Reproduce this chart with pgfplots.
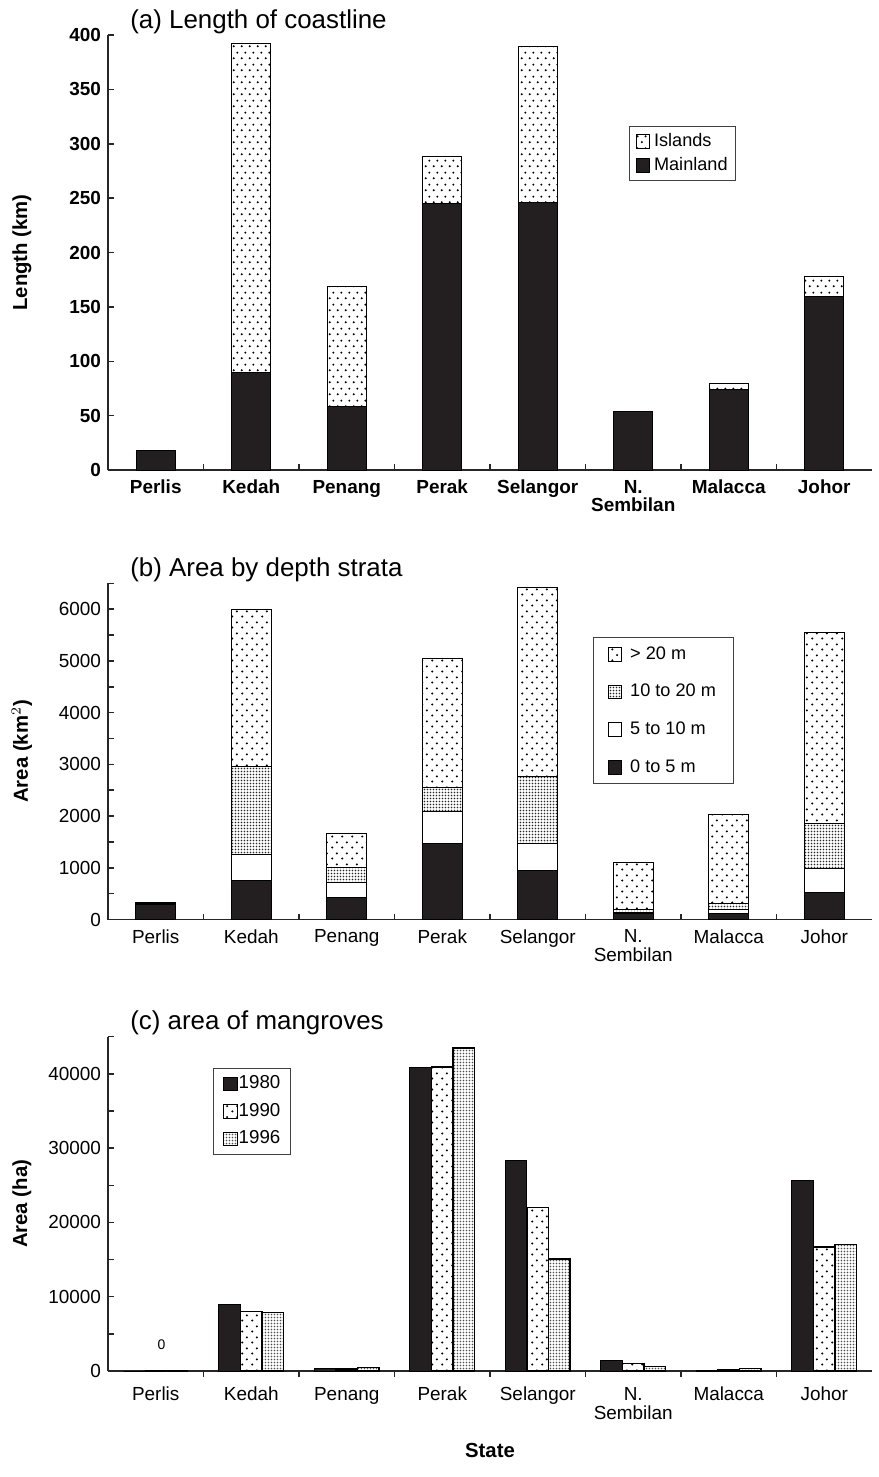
\documentclass[border=0pt]{standalone}
\usepackage{fontspec}
\setmainfont{Liberation Sans}
\usepackage{pgfplots}
\pgfplotsset{compat=1.18}
\usetikzlibrary{patterns}

\definecolor{barblack}{RGB}{35,31,32}

% sparse dots for panel (a)
\pgfdeclarepatternformonly{sdotsA}{\pgfqpoint{0bp}{0bp}}{\pgfqpoint{4bp}{6bp}}{\pgfqpoint{4bp}{6bp}}{%
  \pgfpathcircle{\pgfqpoint{1bp}{1.5bp}}{0.6bp}%
  \pgfpathcircle{\pgfqpoint{3bp}{4.5bp}}{0.6bp}%
  \pgfusepath{fill}}
% sparse dots for panels (b), (c)
\pgfdeclarepatternformonly{sdotsB}{\pgfqpoint{0bp}{0bp}}{\pgfqpoint{5bp}{5.5bp}}{\pgfqpoint{5bp}{5.5bp}}{%
  \pgfpathcircle{\pgfqpoint{1.25bp}{1.375bp}}{0.6bp}%
  \pgfpathcircle{\pgfqpoint{3.75bp}{4.125bp}}{0.6bp}%
  \pgfusepath{fill}}
% dense dots
\pgfdeclarepatternformonly{ddots}{\pgfqpoint{0bp}{0bp}}{\pgfqpoint{1.5bp}{1.5bp}}{\pgfqpoint{1.5bp}{1.5bp}}{%
  \pgfpathcircle{\pgfqpoint{0.75bp}{0.75bp}}{0.43bp}%
  \pgfusepath{fill}}

\newcommand\fa{\fontsize{9.5}{9.5}\selectfont\bfseries}
\newcommand\fl{\fontsize{10.2}{11}\selectfont\bfseries}
\newcommand\fb{\fontsize{9.5}{9.5}\selectfont}
\newcommand\ft{\fontsize{13}{15}\selectfont}

\pgfplotsset{
  panel/.style={
    scale only axis, width=382bp,
    xmin=-0.5, xmax=7.5, ymin=0,
    axis x line=bottom, axis y line=left,
    axis line style={-, line width=0.75bp, black!85},
    tick align=inside, major tick length=3bp, minor tick length=3bp,
    tick style={black!85, line width=0.75bp},
    xtick={0,...,7}, minor xtick={0.5,1.5,...,6.5},
    every major x tick/.append style={draw=none},
    xticklabels={Perlis,Kedah,Penang,Perak,Selangor,{N.\\Sembilan},Malacca,Johor},
    xticklabel style={align=center, anchor=north, yshift=-1.5bp},
    /pgf/number format/assume math mode=true,
    yticklabel style={/pgf/number format/1000 sep={}},
    scaled y ticks=false,
    every axis y label/.style={at={(axis description cs:-0.1126,0.5)}, rotate=90, anchor=center},
    title style={at={(rel axis cs:0.02,1)}, anchor=base west, yshift=-2.5bp, font=\ft},
    legend cell align=left,
  },
  sq/.style={legend image code/.code={%
    \draw[##1, line width=0.5bp] (0bp,-3.4bp) rectangle (6.8bp,3.4bp);
    \path[draw=none, fill=none] (0bp,0bp) -- (6.8bp+#1,0bp);}},
  sq/.default=0bp,
}

\begin{document}
\begin{tikzpicture}
\useasboundingbox (0bp,0bp) rectangle (439.5bp,-738.5bp);

% ---------------- (a) ----------------
\begin{axis}[panel, at={(54bp,-235bp)}, anchor=south west, height=217.5bp,
  ybar stacked, bar width=19.5bp, sq=1.2bp,
  ymax=400, ytick={0,50,...,400},
  tick label style={font=\fa},
  ylabel={Length (km)}, ylabel style={font=\fl},
  title={(a) Length of coastline},
  legend style={at={(0.682,0.791)}, anchor=north west, font=\fontsize{9.1}{10}\selectfont,
    draw=black!75, line width=0.5bp, inner xsep=3bp, inner ysep=2.5bp, row sep=2bp,
    nodes={inner sep=1bp}},
  reverse legend]
\addplot[sq=1.2bp, fill=barblack, draw=black, line width=0.5bp] coordinates
  {(0,18) (1,90) (2,58) (3,245) (4,246) (5,54) (6,74) (7,160)};
\addlegendentry{Mainland}
\addplot[sq=1.2bp, pattern=sdotsA, draw=black, line width=0.5bp] coordinates
  {(0,0) (1,302) (2,111) (3,43) (4,143) (5,0) (6,6) (7,18)};
\addlegendentry{Islands}
\end{axis}

% ---------------- (b) ----------------
\begin{axis}[panel, at={(54bp,-459.75bp)}, anchor=south west, height=168.1bp,
  ybar stacked, bar width=20bp, sq=2.5bp,
  ymax=6500, ytick={0,1000,...,6000}, minor ytick={500,1500,...,6500},
  tick label style={font=\fb},
  ylabel={Area (km$^{2}$)}, ylabel style={font=\fl},
  title={(b) Area by depth strata},
  legend style={at={(0.635,0.839)}, anchor=north west, font=\fontsize{9.1}{10}\selectfont,
    draw=black!75, line width=0.5bp, inner xsep=7bp, inner ysep=2.5bp, row sep=7.5bp,
    nodes={inner sep=1.75bp}},
  reverse legend]
\addplot[sq=2.5bp, fill=barblack, draw=black, line width=0.5bp] coordinates
  {(0,290) (1,760) (2,430) (3,1460) (4,940) (5,120) (6,120) (7,520)};
\addlegendentry{0 to 5 m}
\addplot[sq=2.5bp, fill=white, draw=black, line width=0.5bp] coordinates
  {(0,10) (1,500) (2,290) (3,620) (4,530) (5,20) (6,80) (7,470)};
\addlegendentry{5 to 10 m}
\addplot[sq=2.5bp, pattern=ddots, pattern color=black!85, draw=black, line width=0.5bp] coordinates
  {(0,15) (1,1690) (2,290) (3,470) (4,1300) (5,60) (6,110) (7,870)};
\addlegendentry{10 to 20 m}
\addplot[sq=2.5bp, pattern=sdotsB, draw=black, line width=0.5bp] coordinates
  {(0,20) (1,3050) (2,660) (3,2490) (4,3640) (5,910) (6,1720) (7,3680)};
\addlegendentry{> 20 m}
\end{axis}

% ---------------- (c) ----------------
\begin{axis}[panel, at={(54bp,-685.5bp)}, anchor=south west, height=167.15bp,
  ybar=0pt, bar width=10.75bp, sq,
  ymax=45000, ytick={0,10000,...,40000}, minor ytick={5000,15000,...,45000},
  tick label style={font=\fb},
  ylabel={Area (ha)}, ylabel style={font=\fl},
  xlabel={State}, xlabel style={font=\fl, at={(axis description cs:0.5,0)}, anchor=center, yshift=-39.5bp},
  title={(c) area of mangroves},
  legend style={at={(0.138,0.907)}, anchor=north west, font=\fontsize{9.4}{10}\selectfont,
    draw=black!75, line width=0.5bp, inner xsep=4.6bp, inner ysep=2.2bp, row sep=2.5bp,
    nodes={inner xsep=0.5bp, inner ysep=1.6bp}}]
\addplot[sq, fill=barblack, draw=black, line width=0.5bp] coordinates
  {(0,0) (1,9000) (2,350) (3,40800) (4,28300) (5,1400) (6,100) (7,25600)};
\addlegendentry{1980}
\addplot[sq, pattern=sdotsB, draw=black, line width=0.75bp] coordinates
  {(0,0) (1,8000) (2,300) (3,40900) (4,22000) (5,1000) (6,200) (7,16700)};
\addlegendentry{1990}
\addplot[sq, pattern=ddots, pattern color=black!70, draw=black, line width=0.75bp] coordinates
  {(0,0) (1,7900) (2,500) (3,43500) (4,15100) (5,600) (6,350) (7,17000)};
\addlegendentry{1996}
\node[font=\fontsize{7}{8}\selectfont] at (axis cs:0.06,3500) {0};
\end{axis}
\end{tikzpicture}
\end{document}
